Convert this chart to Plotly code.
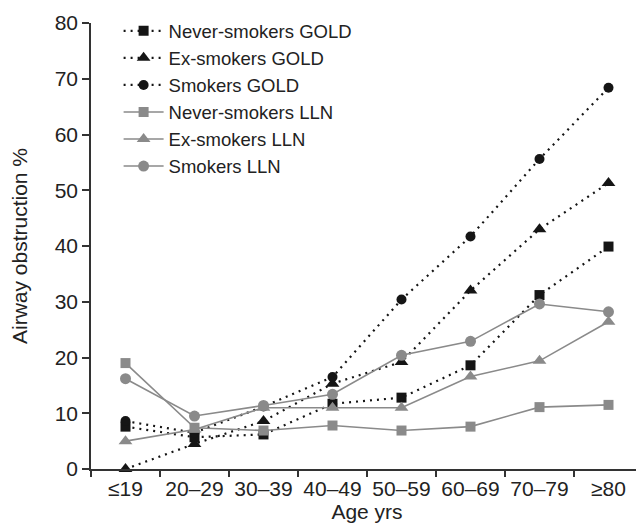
import plotly.graph_objects as go

ages = ["≤19", "20–29", "30–39", "40–49", "50–59", "60–69", "70–79", "≥80"]

never_gold = [7.6, 5.7, 6.2, 11.7, 12.8, 18.6, 31.2, 39.9]
ex_gold = [0.0, 4.5, 8.6, 15.3, 19.2, 32.0, 43.0, 51.3]
smokers_gold = [8.6, 6.5, 11.2, 16.5, 30.4, 41.7, 55.6, 68.4]
never_lln = [19.0, 7.4, 6.9, 7.8, 6.9, 7.6, 11.1, 11.5]
ex_lln = [5.0, 7.1, 11.0, 11.0, 11.0, 16.6, 19.4, 26.4]
smokers_lln = [16.2, 9.5, 11.4, 13.4, 20.4, 22.9, 29.6, 28.2]

yticks = [0, 10, 20, 30, 40, 50, 60, 70, 80]

BLACK = "#151515"
GRAY = "#8a8a8a"

series = [
    ("Never-smokers GOLD", never_gold, BLACK, "2px,5px", "square", 10),
    ("Ex-smokers GOLD", ex_gold, BLACK, "2px,5px", "triangle-up", 12),
    ("Smokers GOLD", smokers_gold, BLACK, "2px,5px", "circle", 10),
    ("Never-smokers LLN", never_lln, GRAY, "solid", "square", 10),
    ("Ex-smokers LLN", ex_lln, GRAY, "solid", "triangle-up", 12),
    ("Smokers LLN", smokers_lln, GRAY, "solid", "circle", 11),
]

fig = go.Figure()
for name, vals, col, dash, sym, size in series:
    fig.add_trace(go.Scatter(
        x=ages, y=vals, name=name, mode="lines+markers",
        line=dict(color=col, dash=dash, width=2.2 if dash != "solid" else 1.6),
        marker=dict(color=col, symbol=sym, size=size),
        cliponaxis=False,
    ))

# page body adds an 8px offset; figure sized to fit the 644x523 window
fig.update_layout(
    width=636, height=515,
    margin=dict(l=83, r=1, t=15, b=54),
    paper_bgcolor="white", plot_bgcolor="white",
    font=dict(family="Liberation Sans, Arial, sans-serif", size=21, color="#222222"),
    showlegend=True,
    legend=dict(x=0.05, y=1.024, xanchor="left", yanchor="top",
                font=dict(size=18.5, color="#222222"), bgcolor="rgba(0,0,0,0)",
                itemwidth=40, tracegroupgap=0),
)
fig.update_xaxes(
    type="category", categoryorder="array", categoryarray=ages,
    range=[-0.5, 7.5], showline=True, linecolor="#333333", linewidth=1.5,
    ticks="outside", tickson="boundaries", ticklen=6, tickcolor="#333333", tickwidth=1.5,
    showgrid=False, zeroline=False, automargin=False,
    title=dict(text="Age yrs", standoff=2, font=dict(size=21)),
    tickfont=dict(size=21),
)
fig.update_yaxes(
    range=[0, 80], tickvals=yticks, showline=True, linecolor="#333333", linewidth=1.5,
    ticks="outside", ticklen=7, tickcolor="#333333", tickwidth=1.5,
    showgrid=False, zeroline=False, automargin=False,
    title=dict(text="Airway obstruction %", standoff=24, font=dict(size=21)),
    tickfont=dict(size=21),
)

fig.write_html("out.html")
